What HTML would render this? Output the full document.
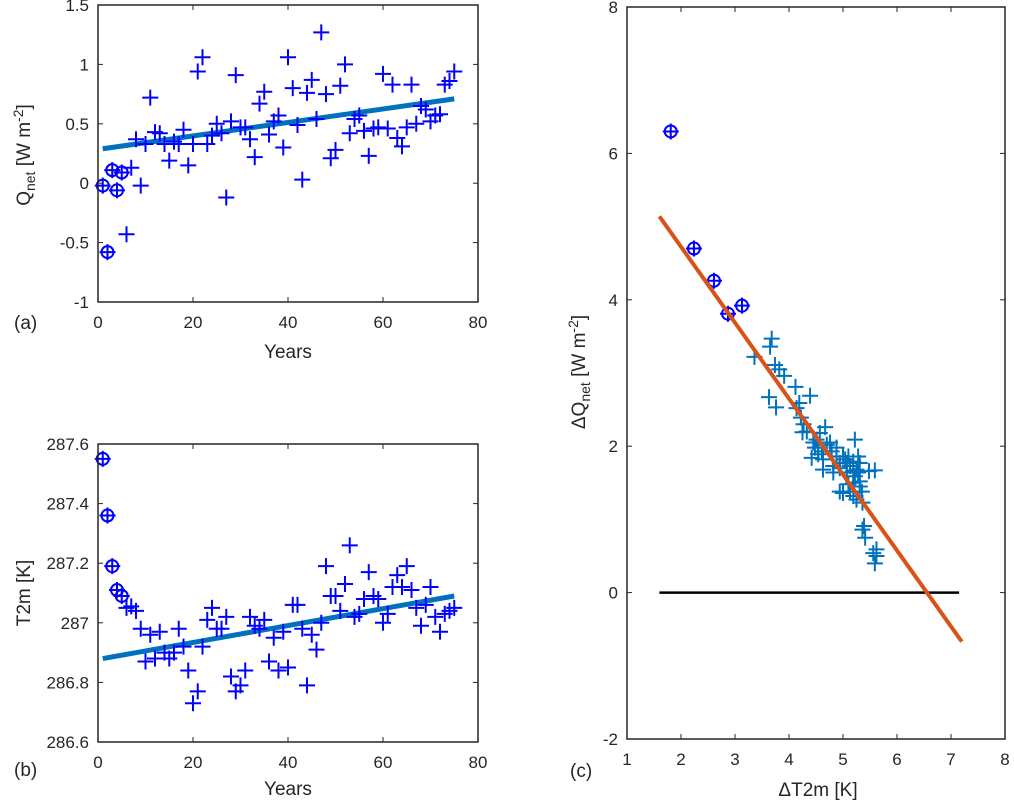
<!DOCTYPE html>
<html><head><meta charset="utf-8"><style>
body{margin:0;background:#fff;}
svg{display:block;font-family:"Liberation Sans",sans-serif;}
</style></head><body>
<svg id="fig" width="1014" height="800" viewBox="0 0 1014 800"></svg>
<script>
// ---- data ----
const yearsA = Array.from({length:75},(_,i)=>i+1);
const qnet = [-0.02,-0.58,0.11,-0.06,0.09,-0.43,0.13,0.37,-0.02,0.33,0.72,0.43,0.42,0.33,0.19,0.35,0.33,0.45,0.15,0.33,0.94,1.06,0.33,0.40,0.50,0.42,-0.12,0.52,0.91,0.47,0.47,0.37,0.22,0.67,0.77,0.41,0.52,0.57,0.30,1.06,0.80,0.49,0.03,0.76,0.87,0.54,1.27,0.75,0.21,0.28,0.82,1.00,0.42,0.54,0.57,0.44,0.23,0.46,0.47,0.92,0.46,0.83,0.38,0.31,0.47,0.83,0.50,0.65,0.62,0.52,0.57,0.58,0.83,0.86,0.94];
const t2m = [287.55,287.36,287.19,287.11,287.09,287.05,287.055,287.04,286.98,286.87,286.96,286.88,286.97,286.90,286.88,286.90,286.98,286.92,286.84,286.73,286.77,286.92,287.01,287.05,286.98,286.98,287.02,286.82,286.77,286.79,286.84,287.02,286.99,286.98,287.01,286.87,286.95,286.84,286.97,286.85,287.06,287.06,286.98,286.79,286.96,286.91,287.00,287.19,287.09,287.09,287.04,287.13,287.26,287.02,287.03,287.08,287.17,287.09,287.08,287.00,287.03,287.12,287.16,287.12,287.19,287.11,287.05,286.99,287.06,287.12,287.02,286.97,287.03,287.04,287.05];
const nCircled = 5;
const trendYears = [1,75];
const trendQ = [0.29,0.71];
const trendT = [286.88,287.09];
const dTcirc = [1.81,2.24,2.61,2.87,3.13];
const dQcirc = [6.30,4.70,4.26,3.81,3.92];
const dT = [3.68,3.65,3.36,3.74,3.82,3.91,4.12,4.39,3.63,3.76,4.19,4.14,4.22,4.27,4.25,4.67,4.57,4.51,4.45,4.70,5.22,4.88,4.42,4.54,4.63,5.00,5.10,4.94,5.19,5.31,5.59,4.63,4.82,5.07,5.22,5.31,4.94,5.13,5.31,5.19,5.36,5.39,5.41,5.62,5.62,5.59,5.04,5.13,5.25,4.79,4.88,5.28,5.35,5.00,4.48,4.33,4.61,5.10,5.25,5.19,4.94,4.76,4.54,5.07,4.82,5.28,5.36,5.56,5.19,5.48];
const dQ = [3.47,3.36,3.22,3.11,3.05,2.96,2.81,2.69,2.67,2.53,2.59,2.52,2.39,2.30,2.19,2.26,2.18,2.09,2.05,2.02,2.09,1.98,1.84,1.89,1.82,1.86,1.86,1.77,1.79,1.77,1.67,1.68,1.64,1.64,1.59,1.52,1.38,1.38,1.45,1.32,1.23,0.91,0.75,0.59,0.50,0.40,1.82,1.73,1.68,1.93,1.86,1.64,1.38,1.36,1.98,2.20,1.93,1.48,1.27,1.50,1.70,2.05,1.98,1.77,1.73,1.86,0.86,0.54,1.66,1.66];
const fitX = [1.6,7.2];
const fitY = [5.14,-0.67];
const zeroX = [1.6,7.15];
const ticksAx = [0,20,40,60,80];
const ticksAy = [1.5,1,0.5,0,-0.5,-1];
const ticksBy = [287.6,287.4,287.2,287,286.8,286.6];
const ticksCx = [1,2,3,4,5,6,7,8];
const ticksCy = [8,6,4,2,0,-2];

const NS="http://www.w3.org/2000/svg";
const svg=document.getElementById('fig');
function el(tag,attrs,parent){const e=document.createElementNS(NS,tag);for(const k in attrs)e.setAttribute(k,attrs[k]);(parent||svg).appendChild(e);return e;}
function lin(d0,d1,p0,p1){return v=>p0+(v-d0)*(p1-p0)/(d1-d0);}

function axes(name,x0,x1,y0,y1,sx,sy,xt,yt,xfmt,yfmt){
  const g=el('g',{});
  
  
  xt.forEach(v=>{const x=sx(v);
    el('line',{x1:x,x2:x,y1:y1,y2:y1-5,stroke:'#262626','stroke-width':1},g);
    el('line',{x1:x,x2:x,y1:y0,y2:y0+5,stroke:'#262626','stroke-width':1},g);
    const t=el('text',{x:x,y:y1+26,'text-anchor':'middle','font-size':17,fill:'#262626'},g);t.textContent=xfmt(v);
    
    
  });
  yt.forEach(v=>{const y=sy(v);
    el('line',{x1:x0,x2:x0+5,y1:y,y2:y,stroke:'#262626','stroke-width':1},g);
    el('line',{x1:x1,x2:x1-5,y1:y,y2:y,stroke:'#262626','stroke-width':1},g);
    const t=el('text',{x:x0-9,y:y+6,'text-anchor':'end','font-size':17,fill:'#262626'},g);t.textContent=yfmt(v);
    
    
  });
  el('rect',{x:x0,y:y0,width:x1-x0,height:y1-y0,fill:'none',stroke:'#262626','stroke-width':1.5},g);
  return g;
}
function cross(g,x,y,c){el('path',{d:`M${x-8} ${y}H${x+8}M${x} ${y-8}V${y+8}`,stroke:c,'stroke-width':2,fill:'none'},g);}
function circ(g,x,y,c){el('circle',{cx:x,cy:y,r:6,stroke:c,'stroke-width':2,fill:'none'},g);cross(g,x,y,c);}
const fmt=v=>String(v);

// Panel a
{const X0=98,X1=478,Y0=5,Y1=302;
 const sx=lin(0,80,X0,X1), sy=lin(1.5,-1,Y0,Y1);
 const g=el('g',{});
 const tl=el('line',{x1:sx(trendYears[0]),y1:sy(trendQ[0]),x2:sx(trendYears[1]),y2:sy(trendQ[1]),stroke:'#0072BD','stroke-width':5},g);
 
 yearsA.forEach((yr,i)=>{ if(i<nCircled) circ(g,sx(yr),sy(qnet[i]),'#0000FF'); else cross(g,sx(yr),sy(qnet[i]),'#0000FF');});
 axes('axes-a',X0,X1,Y0,Y1,sx,sy,ticksAx,ticksAy,fmt,fmt);
}
// Panel b
{const X0=98,X1=478,Y0=444,Y1=742;
 const sx=lin(0,80,X0,X1), sy=lin(287.6,286.6,Y0,Y1);
 const g=el('g',{});
 const tl=el('line',{x1:sx(trendYears[0]),y1:sy(trendT[0]),x2:sx(trendYears[1]),y2:sy(trendT[1]),stroke:'#0072BD','stroke-width':5},g);
 
 yearsA.forEach((yr,i)=>{ if(i<nCircled) circ(g,sx(yr),sy(t2m[i]),'#0000FF'); else cross(g,sx(yr),sy(t2m[i]),'#0000FF');});
 axes('axes-b',X0,X1,Y0,Y1,sx,sy,ticksAx,ticksBy,fmt,fmt);
}
// Panel c
{const X0=627,X1=1005,Y0=7,Y1=739;
 const sx=lin(1,8,X0,X1), sy=lin(8,-2,Y0,Y1);
 const g=el('g',{});
 const zl=el('line',{x1:sx(zeroX[0]),y1:sy(0),x2:sx(zeroX[1]),y2:sy(0),stroke:'#000','stroke-width':2.5},g);
 
 dT.forEach((t,i)=>cross(g,sx(t),sy(dQ[i]),'#0072BD'));
 dTcirc.forEach((t,i)=>circ(g,sx(t),sy(dQcirc[i]),'#0000FF'));
 const fl=el('line',{x1:sx(fitX[0]),y1:sy(fitY[0]),x2:sx(fitX[1]),y2:sy(fitY[1]),stroke:'#D95319','stroke-width':4},g);
 
 axes('axes-c',X0,X1,Y0,Y1,sx,sy,ticksCx,ticksCy,fmt,fmt);
}
</script>
<svg style="position:absolute;left:0;top:0" width="1014" height="800">
<g font-family="Liberation Sans, sans-serif" fill="#262626">
<text x="14" y="329" font-size="19">(a)</text>
<text x="288" y="358" font-size="19" text-anchor="middle">Years</text>
<text transform="translate(30,155) rotate(-90)" font-size="19" text-anchor="middle">Q<tspan font-size="14" dy="5">net</tspan><tspan dy="-5"> [W m</tspan><tspan font-size="14" dy="-7">-2</tspan><tspan dy="7">]</tspan></text>
<text x="14" y="776" font-size="19">(b)</text>
<text x="288" y="795" font-size="19" text-anchor="middle">Years</text>
<text transform="translate(30,593) rotate(-90)" font-size="19" text-anchor="middle">T2m [K]</text>
<text x="570" y="777" font-size="19">(c)</text>
<text x="818" y="796" font-size="19" text-anchor="middle">ΔT2m [K]</text>
<text transform="translate(585,372) rotate(-90)" font-size="19" text-anchor="middle">ΔQ<tspan font-size="14" dy="5">net</tspan><tspan dy="-5"> [W m</tspan><tspan font-size="14" dy="-7">-2</tspan><tspan dy="7">]</tspan></text>
</g></svg>
</body></html>
